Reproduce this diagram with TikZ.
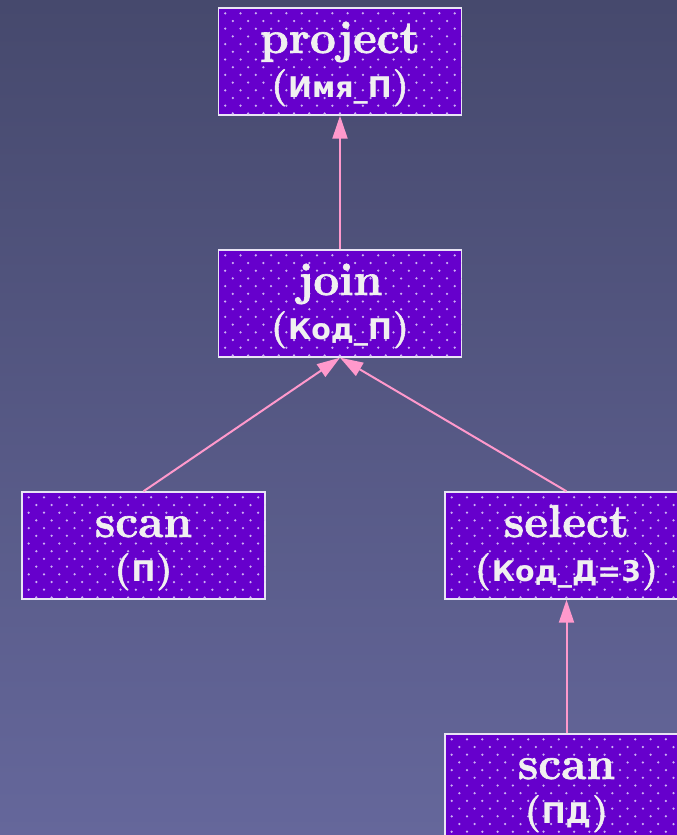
\documentclass[tikz,border=0pt]{standalone}
\usepackage{fontspec}
\newfontfamily\cyrsans{DejaVu Sans}
\newfontfamily\opserif[FakeBold=1.4]{Latin Modern Roman}
\usetikzlibrary{arrows.meta}

\definecolor{bgtop}{HTML}{46496D}
\definecolor{bgbottom}{HTML}{65679B}
\definecolor{boxfill}{HTML}{6600CC}
\definecolor{boxline}{HTML}{E8E4F4}
\definecolor{dotc}{HTML}{CDB0F4}
\definecolor{txtmain}{HTML}{F0F0F0}
\definecolor{edgec}{HTML}{FF99CC}

% operator name (first line) and its argument (second line)
\newcommand\opname[1]{\textcolor{txtmain}{\opserif\fontsize{46}{50}\selectfont\bfseries #1}}
\newcommand\oparg[1]{\textcolor{txtmain}{\opserif\fontsize{37}{40}\selectfont\bfseries(\kern1pt{\cyrsans\fontsize{28.5}{30}\selectfont\bfseries #1}\kern1pt)}}

% dotted texture inside a 243 x 107 box whose top-left corner is (#1,#2)
\newcommand\boxdots[2]{%
  \begin{scope}
    \clip (#1,#2) rectangle ++(243,107);
    \foreach \r in {0,...,13} {
      \foreach \c in {0,...,15} {
        \fill[dotc] ({#1+6.7+mod(\r,2)*7.6+\c*15.3},{#2+5.3+\r*7.7}) circle (1.25);
      }
    }
  \end{scope}}

\tikzset{
  opbox/.style={draw=boxline, line width=1.4pt, fill=boxfill,
    minimum width=243pt, minimum height=107pt, inner sep=0pt},
  oplabel/.style={anchor=base, inner sep=0pt},
  flow/.style={draw=edgec, line width=2pt, -{Triangle[length=23pt,width=15pt]}}
}

\begin{document}
\begin{tikzpicture}[x=1pt, y=-1pt]
  \useasboundingbox (0,0) rectangle (677,835);
  \clip (0,0) rectangle (677,835);
  \shade[top color=bgtop, bottom color=bgbottom] (0,0) rectangle (677,835);

  % operator boxes
  \node[opbox] (project) at (340,61.5) {};
  \node[opbox] (join)    at (340,303.5) {};
  \node[opbox] (scanP)   at (143.5,545.5) {};
  \node[opbox] (select)  at (566.5,545.5) {};
  \node[opbox] (scanPD)  at (566.5,787.5) {};

  \boxdots{218.5}{8}
  \boxdots{218.5}{250}
  \boxdots{22}{492}
  \boxdots{445}{492}
  \boxdots{445}{734}

  % labels
  \node[oplabel] (projectA) at (340,53)  {\opname{project}};
  \node[oplabel] (projectB) at (340,97)  {\oparg{Имя\_П}};
  \node[oplabel] (joinA)    at (340,295) {\opname{join}};
  \node[oplabel] (joinB)    at (340,339) {\oparg{Код\_П}};
  \node[oplabel] (scanPA)   at (143.5,537) {\opname{scan}};
  \node[oplabel] (scanPB)   at (143.5,581) {\oparg{П}};
  \node[oplabel] (selectA)  at (566.5,537) {\opname{select}};
  \node[oplabel] (selectB)  at (566.5,581) {\oparg{Код\_Д=3}};
  \node[oplabel] (scanPDA)  at (566.5,779) {\opname{scan}};
  \node[oplabel] (scanPDB)  at (566.5,823) {\oparg{ПД}};

  % data flow
  \draw[flow] (join.north)   -- (project.south);
  \draw[flow] (scanP.north)  -- (join.south);
  \draw[flow] (select.north) -- (join.south);
  \draw[flow] (scanPD.north) -- (select.south);
\end{tikzpicture}
\end{document}
